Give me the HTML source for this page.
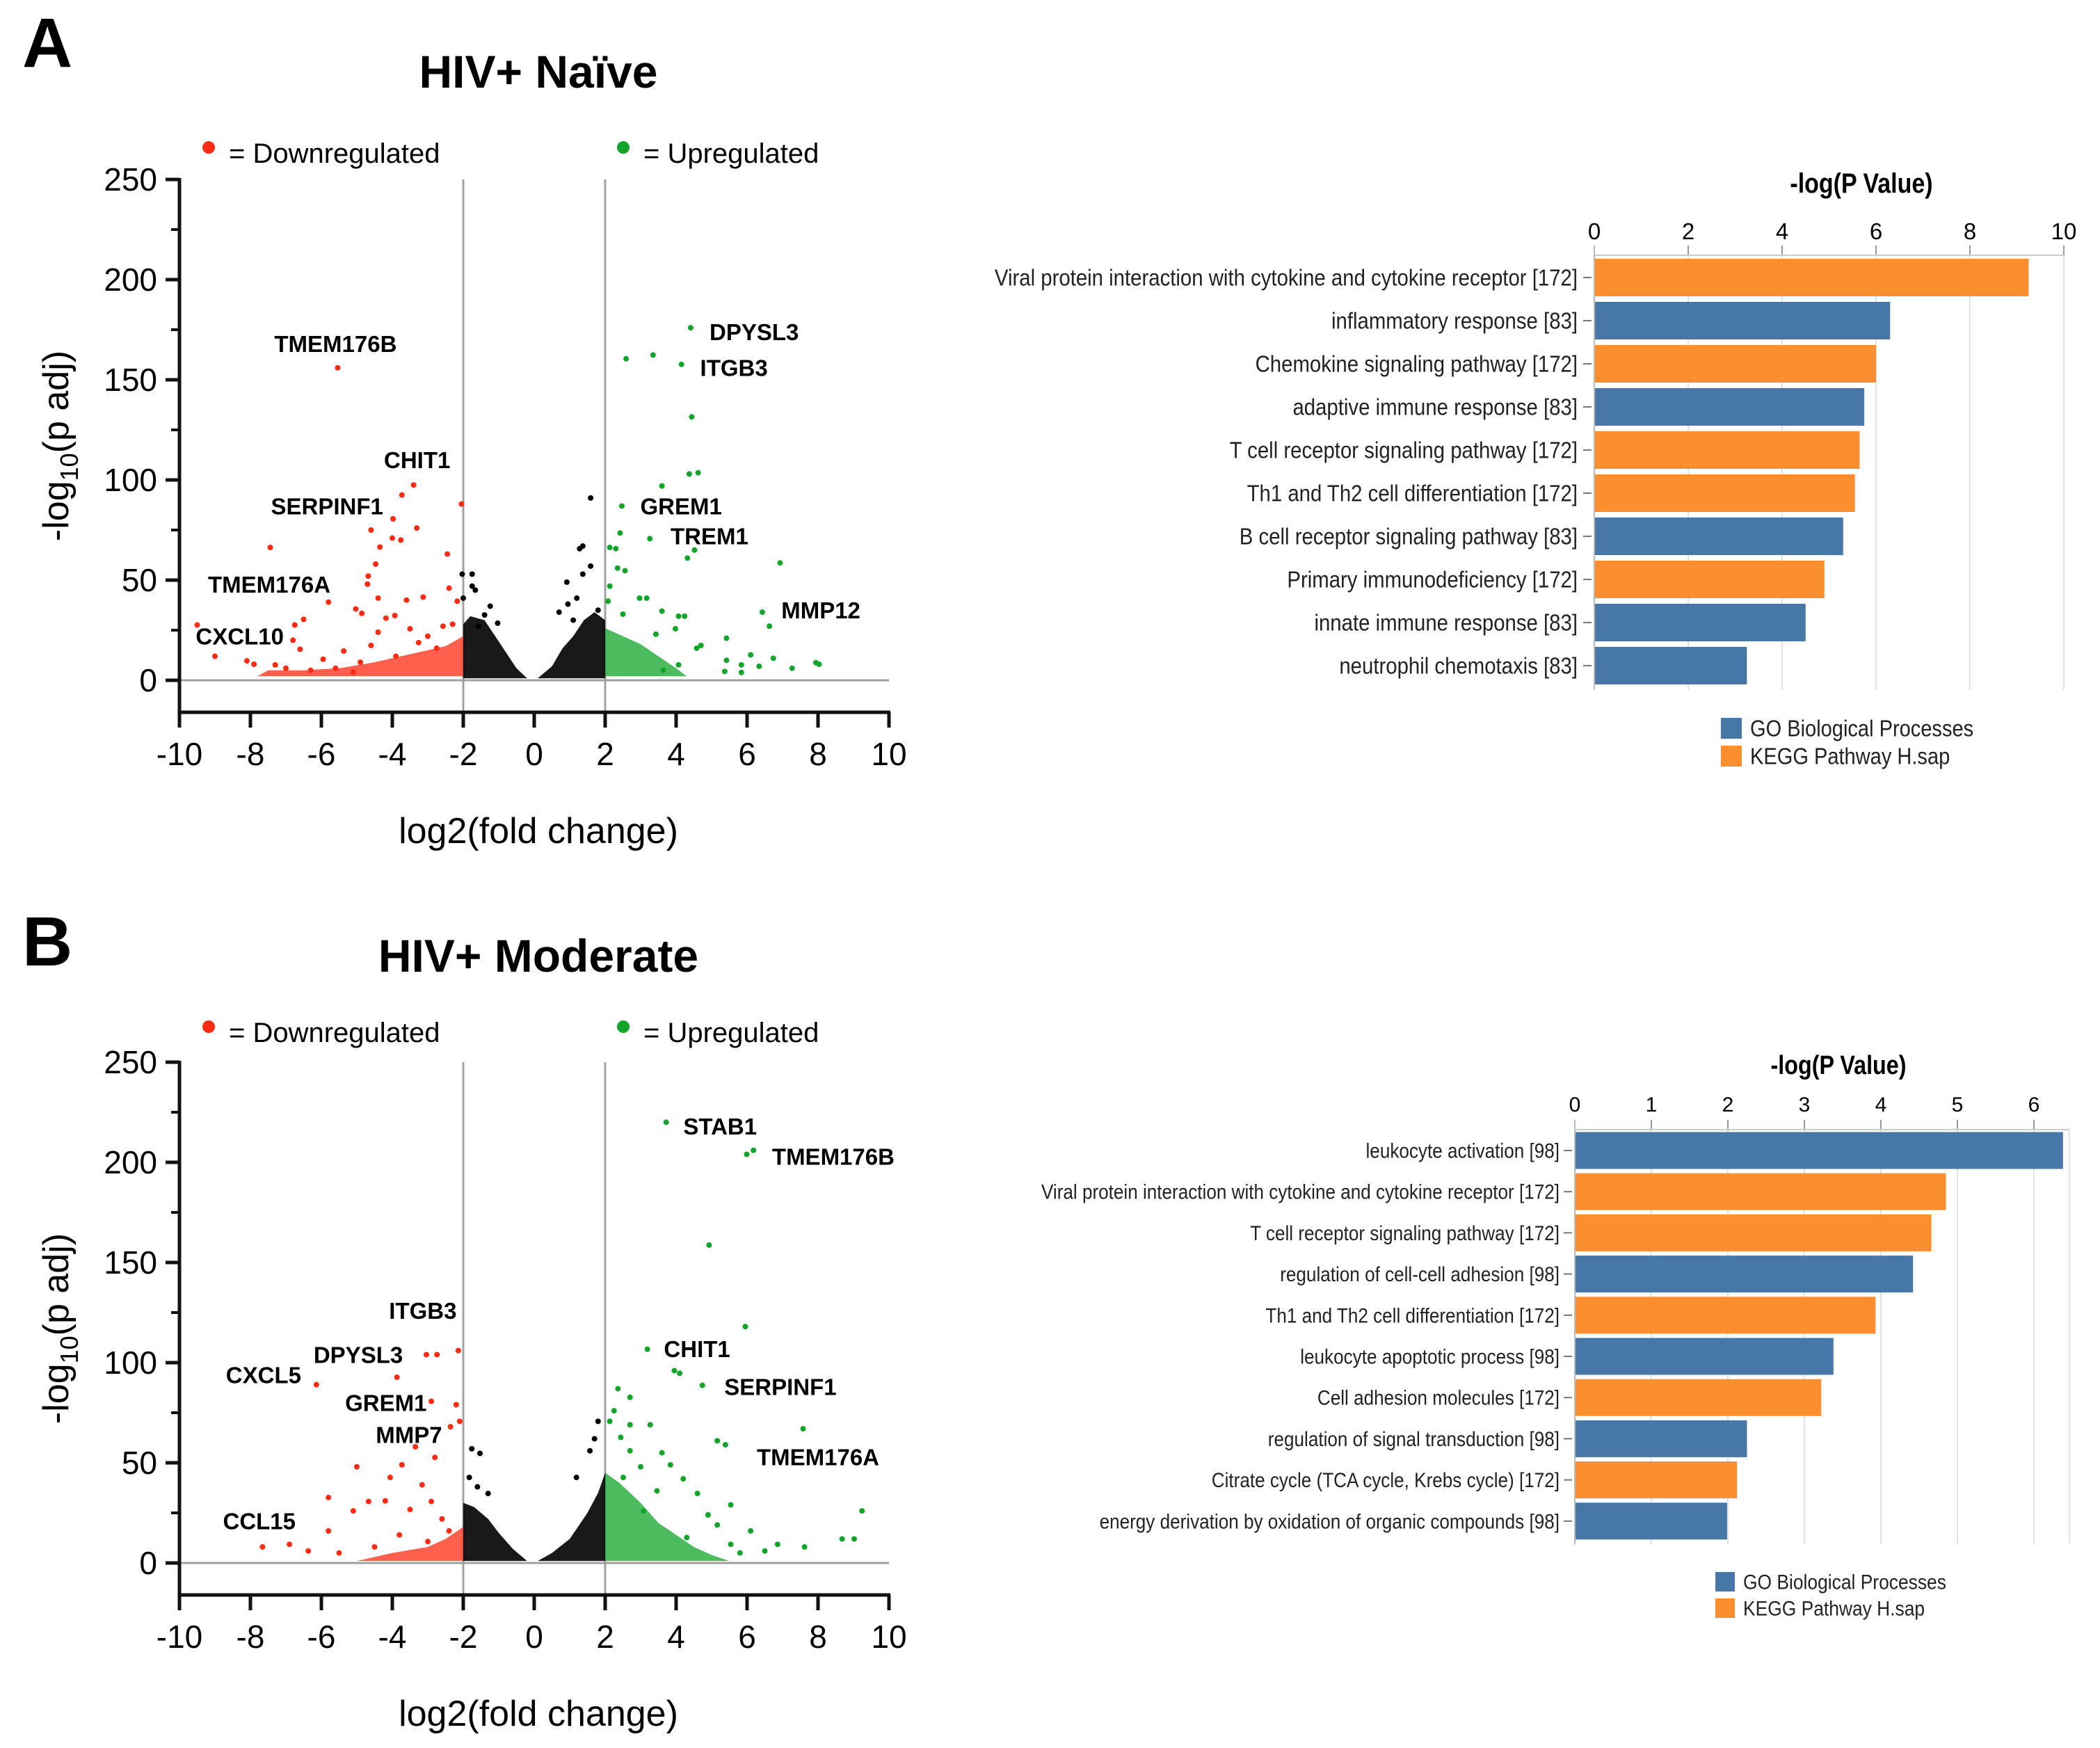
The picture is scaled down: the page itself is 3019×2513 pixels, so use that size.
<!DOCTYPE html>
<html><head><meta charset="utf-8"><style>
html,body{margin:0;padding:0;background:#fff;}
svg{display:block;font-family:"Liberation Sans",Arial,sans-serif;}
</style></head><body>
<svg id="fig" width="3019" height="2513" viewBox="0 0 3019 2513" xmlns="http://www.w3.org/2000/svg">
<rect width="3019" height="2513" fill="#fff"/>
<text x="32" y="96" font-size="100" font-weight="bold">A</text>
<text x="32" y="1388" font-size="100" font-weight="bold">B</text>
<text x="774" y="126" font-size="66" font-weight="bold" text-anchor="middle">HIV+ Naïve</text>
<text x="774" y="1397" font-size="66" font-weight="bold" text-anchor="middle">HIV+ Moderate</text>
<g id="volA"></g>
<g id="volB"></g>
<g id="barA"></g>
<g id="barB"></g>
</svg>
<script>
// ---------- Volcano data ----------
const aRed = [[-5.54,156],[-3.4,97.5],[-3.73,92.5],[-2.05,88],[-3.98,80.6],[-3.31,76],[-4.6,75],[-4.0,71],[-3.76,70],[-4.35,66.5],[-2.45,63],[-7.44,66.3],[-4.47,58],[-4.68,52],[-4.7,48],[-2.4,46],[-5.8,39],[-4.4,41],[-3.6,40],[-3.13,41.5],[-2.17,39.5],[-5.03,35.6],[-4.86,33.4],[-3.93,32.3],[-4.18,31],[-2.57,27],[-6.5,30.4],[-6.75,27.6],[-6.8,20],[-6.6,15.5],[-4.4,24],[-3.5,25.7],[-9.0,12],[-8.1,9.7],[-9.5,27.6],[-7.3,7.7],[-5.95,10.5],[-5.37,14.6],[-4.6,17.4],[-3.26,18.8],[-2.75,16],[-7.9,8],[-7.0,6],[-6.3,5],[-5.6,6],[-5.1,4],[-4.9,9],[-3.9,12],[-3.0,22],[-2.3,28]];
const aGreen = [[4.41,176],[2.59,160.5],[3.35,162.4],[4.15,157.7],[4.44,131.5],[4.37,103],[4.62,103.6],[3.6,97],[2.47,87],[2.42,73.5],[3.26,70.7],[2.13,66.3],[2.3,65.7],[4.52,65],[4.32,61],[6.93,58.6],[2.35,56],[2.56,54.7],[2.13,47],[2.97,41],[3.17,41],[2.08,39.5],[3.6,34.5],[4.07,32],[4.24,32],[6.43,34],[6.63,27],[2.5,33],[3.98,25.7],[5.42,21],[4.58,16],[4.7,17.4],[3.43,23],[6.1,12.7],[6.74,11],[5.42,10],[5.84,7.7],[6.34,7],[7.27,6],[7.94,8.8],[8.03,8],[5.37,4.4],[5.84,3.9],[3.64,5],[4.07,7.7]];
const aBlack = [[1.59,91],[1.28,65.7],[1.37,67],[1.59,57],[1.37,53],[0.92,49],[0.7,34],[1.2,41],[-2.03,53],[-1.75,53],[-1.75,47],[-1.66,45],[-2,41],[-1.24,37],[-1.4,32.6],[-1.03,28.5],[-1.57,27],[0.95,38],[1.8,35],[1.1,30]];
const aRedBand = [[-7.8,2],[-7.5,5],[-6.5,5],[-5.5,6],[-4.5,9],[-3.5,13],[-2.5,17],[-2,22],[-2,2]];
const aGreenBand = [[2,2],[2,26],[2.5,22],[3,18],[3.5,12],[4,6],[4.3,2]];
const aBlackLeft = [[-2,1],[-2,28],[-1.8,32],[-1.4,30],[-1.1,22],[-0.8,14],[-0.5,6],[-0.2,1]];
const aBlackRight = [[0.1,1],[0.5,7],[0.8,16],[1.1,22],[1.4,30],[1.7,34],[2,30],[2,1]];
const aLabels = [["TMEM176B",-5.6,168],["CHIT1",-3.3,110],["SERPINF1",-5.84,87],["TMEM176A",-7.47,48],["CXCL10",-8.3,22],["DPYSL3",6.2,174],["ITGB3",5.63,156],["GREM1",4.14,87],["TREM1",4.94,72],["MMP12",8.08,35]];

const bRed = [[-3.04,104],[-2.74,104],[-2.14,106],[-3.87,92.7],[-6.14,89],[-2.9,80.7],[-2.2,79],[-2.1,70.7],[-2.36,68],[-3.35,58],[-2.8,52.7],[-3.73,49],[-5,48],[-4.06,42.7],[-3.16,39],[-5.8,32.7],[-4.67,30.7],[-4.2,31],[-5.1,26],[-3.5,26.7],[-2.9,30.7],[-5.8,16],[-7.66,8],[-6.9,9.3],[-6.37,6],[-2.4,16],[-3,10.7],[-4.5,8],[-5.5,5],[-3.8,14],[-2.6,22]];
const bGreen = [[3.72,220],[5.99,204],[6.18,206],[4.93,158.7],[5.95,118],[3.19,106.7],[3.95,96],[4.1,94.7],[4.74,88.7],[2.36,87],[2.7,82.7],[7.58,67],[5.16,61],[5.39,59],[2.44,62.7],[3.27,69],[2.7,56],[3.84,49],[2.51,42.7],[3.46,36],[4.6,34.7],[5.54,29],[3.08,26],[5.16,19],[6.1,16],[6.86,9.3],[7.62,8],[8.68,12],[9.02,12],[9.24,26],[4.3,12.7],[5.54,9.3],[2.7,69],[2.13,70.7],[2.25,76],[3.6,55],[4.2,42],[3.0,48],[4.9,24],[6.5,6],[5.8,5]];
const bBlack = [[-1.76,57],[-1.53,54.7],[-1.83,42.7],[-1.3,34.7],[1.8,70.7],[1.57,56],[1.19,42.7],[1.7,62],[-1.6,38]];
const bRedBand = [[-5,1],[-4,5],[-3,8],[-2.5,12],[-2,18],[-2,1]];
const bGreenBand = [[2,1],[2,45],[2.4,40],[3,30],[3.5,20],[4,14],[4.5,8],[5,4],[5.5,1]];
const bBlackLeft = [[-2,1],[-2,30],[-1.7,28],[-1.3,22],[-1,15],[-0.6,7],[-0.2,1]];
const bBlackRight = [[0.1,1],[0.5,5],[1,12],[1.5,25],[1.8,35],[2,45],[2,1]];
const bLabels = [["STAB1",5.24,218],["TMEM176B",8.43,203],["ITGB3",-3.14,126],["DPYSL3",-4.96,104],["CXCL5",-7.63,94],["GREM1",-4.18,80],["MMP7",-3.53,64],["CHIT1",4.59,107],["SERPINF1",6.94,88],["TMEM176A",8.0,53],["CCL15",-7.75,21]];

const xTicks = [-10,-8,-6,-4,-2,0,2,4,6,8,10];
const yTicks = [0,50,100,150,200,250];
const yMinor = [25,75,125,175,225];

// ---------- Bar data ----------
const barALabels = ["Viral protein interaction with cytokine and cytokine receptor [172]","inflammatory response [83]","Chemokine signaling pathway [172]","adaptive immune response [83]","T cell receptor signaling pathway [172]","Th1 and Th2 cell differentiation [172]","B cell receptor signaling pathway [83]","Primary immunodeficiency [172]","innate immune response [83]","neutrophil chemotaxis [83]"];
const barAValues = [9.25,6.3,6.0,5.75,5.65,5.55,5.3,4.9,4.5,3.25];
const barATypes = ["K","G","K","G","K","K","G","K","G","G"];
const barATicks = [0,2,4,6,8,10];
const barBLabels = ["leukocyte activation [98]","Viral protein interaction with cytokine and cytokine receptor [172]","T cell receptor signaling pathway [172]","regulation of cell-cell adhesion [98]","Th1 and Th2 cell differentiation [172]","leukocyte apoptotic process [98]","Cell adhesion molecules [172]","regulation of signal transduction [98]","Citrate cycle (TCA cycle, Krebs cycle) [172]","energy derivation by oxidation of organic compounds [98]"];
const barBValues = [6.38,4.85,4.66,4.42,3.93,3.38,3.22,2.25,2.12,1.99];
const barBTypes = ["G","K","K","G","K","G","K","G","K","G"];
const barBTicks = [0,1,2,3,4,5,6];

const NS = "http://www.w3.org/2000/svg";
function mk(parent, tag, attrs, text){
  const e = document.createElementNS(NS, tag);
  for (const k in attrs) e.setAttribute(k, attrs[k]);
  if (text !== undefined) e.textContent = text;
  parent.appendChild(e);
  return e;
}
const RED="#ff2a12", GREEN="#12a52a", BLUE="#4677a6", ORANGE="#fb8e2f";

function volcano(g, oy, red, green, black, redBand, greenBand, bl, br, labels, legY){
  const X0=258, XU=51.0, Y0=978+oy, YU=2.88;
  const sx = v => X0 + (v+10)*XU;
  const sy = v => Y0 - v*YU;
  const axY = 1024+oy, topY = sy(250);
  let e = mk(g,'circle',{cx:300,cy:legY,r:9,fill:RED});
   
  e = mk(g,'text',{x:329,y:legY+22,'font-size':40},'= Downregulated');
   
  e = mk(g,'circle',{cx:896,cy:legY,r:9,fill:GREEN});
   
  e = mk(g,'text',{x:925,y:legY+22,'font-size':40},'= Upregulated');
   
  for (const v of [-2,2]){
    e = mk(g,'line',{x1:sx(v),x2:sx(v),y1:topY,y2:axY,stroke:'#a0a0a0','stroke-width':3});
     
  }
  e = mk(g,'line',{x1:X0,x2:sx(10),y1:sy(0),y2:sy(0),stroke:'#a0a0a0','stroke-width':3});
   
  const poly = (pts,fill,name,op)=>{
    const p = mk(g,'polygon',{points:pts.map(q=>sx(q[0])+','+sy(q[1])).join(' '),fill:fill,opacity:op});
     
  };
  poly(bl,'#000','ns-cloud-left',0.9); poly(br,'#000','ns-cloud-right',0.9);
  poly(redBand,RED,'down-cloud',0.75); poly(greenBand,GREEN,'up-cloud',0.75);
  const dots=(arr,fill,name)=>{ for(const q of arr){
    const c = mk(g,'circle',{cx:sx(q[0]),cy:sy(q[1]),r:4,fill:fill});
      } };
  dots(black,'#000','ns-gene-point'); dots(red,RED,'down-gene-point'); dots(green,GREEN,'up-gene-point');
  for (const l of labels){
    const t = mk(g,'text',{x:sx(l[1]),y:sy(l[2])+12,'font-size':33,'font-weight':'bold','text-anchor':'middle'},l[0]);
     
  }
  e = mk(g,'line',{x1:X0,x2:X0,y1:topY-2,y2:axY+22,stroke:'#111','stroke-width':5});
   
  e = mk(g,'line',{x1:X0-2,x2:sx(10)+2,y1:axY,y2:axY,stroke:'#111','stroke-width':5});
   
  for (const v of yTicks){
    e = mk(g,'line',{x1:X0-20,x2:X0,y1:sy(v),y2:sy(v),stroke:'#111','stroke-width':5});
     
    e = mk(g,'text',{x:226,y:sy(v)+16,'font-size':46,'text-anchor':'end'},String(v));
     
  }
  for (const v of yMinor){
    e = mk(g,'line',{x1:X0-12,x2:X0,y1:sy(v),y2:sy(v),stroke:'#111','stroke-width':4});
     
  }
  for (const v of xTicks){
    e = mk(g,'line',{x1:sx(v),x2:sx(v),y1:axY,y2:axY+22,stroke:'#111','stroke-width':5});
     
    e = mk(g,'text',{x:sx(v),y:axY+76,'font-size':46,'text-anchor':'middle'},String(v));
     
  }
  e = mk(g,'text',{x:774,y:1212+oy,'font-size':52,'text-anchor':'middle'},'log2(fold change)');
   
  const yt = mk(g,'text',{x:0,y:0,'font-size':52,'text-anchor':'middle',transform:'translate(98,'+(641+oy)+') rotate(-90)'});
   
  mk(yt,'tspan',{},'-log');
  mk(yt,'tspan',{'font-size':36,dy:14},'10');
  mk(yt,'tspan',{dy:-14},'(p adj)');
}
volcano(document.getElementById('volA'),0,aRed,aGreen,aBlack,aRedBand,aGreenBand,aBlackLeft,aBlackRight,aLabels,212);
volcano(document.getElementById('volB'),1269,bRed,bGreen,bBlack,bRedBand,bGreenBand,bBlackLeft,bBlackRight,bLabels,1476);

function bars(g, labels, values, types, ticks, o){
  const sx = v => o.x0 + v*o.unit;
  const xEnd = sx(ticks[ticks.length-1]);
  const bottom = o.c0 + (labels.length-1)*o.step + o.step/2 + 4;
  let e = mk(g,'text',{x:o.titleX,y:o.titleY,'font-size':o.tf,'font-weight':'bold','text-anchor':'middle',transform:'translate('+o.titleX+',0) scale(0.85,1) translate('+(-o.titleX)+',0)'},'-log(P Value)');
   
  for (const v of ticks){
    e = mk(g,'line',{x1:sx(v),x2:sx(v),y1:o.axY,y2:bottom,stroke:'#e2e2e2','stroke-width':2});
     
    e = mk(g,'line',{x1:sx(v),x2:sx(v),y1:o.axY-14,y2:o.axY,stroke:'#999','stroke-width':2});
     
    e = mk(g,'text',{x:sx(v),y:o.tickY,'font-size':o.lf,'text-anchor':'middle'},String(v));
     
  }
  e = mk(g,'line',{x1:o.x0,x2:Math.max(xEnd,o.right),y1:o.axY,y2:o.axY,stroke:'#ccc','stroke-width':2});
   
  e = mk(g,'line',{x1:o.right,x2:o.right,y1:o.axY,y2:bottom,stroke:'#e2e2e2','stroke-width':2});
   
  e = mk(g,'line',{x1:o.x0,x2:o.x0,y1:o.axY-14,y2:bottom,stroke:'#bbb','stroke-width':2});
   
  labels.forEach((lab,i)=>{
    const cy = o.c0 + i*o.step;
    const r = mk(g,'rect',{x:o.x0+1,y:cy-o.bh/2,width:sx(values[i])-o.x0-1,height:o.bh,fill:types[i]==='G'?BLUE:ORANGE});
     
    const tk = mk(g,'line',{x1:o.x0-16,x2:o.x0-4,y1:cy,y2:cy,stroke:'#777','stroke-width':2});
     
    const t = mk(g,'text',{x:0,y:0,'font-size':o.lf,'text-anchor':'end',fill:'#222',transform:'translate('+o.labR+','+(cy+o.lf*0.35)+') scale('+o.lsx+',1)'},lab);
     
  });
  const leg = [[BLUE,'GO Biological Processes'],[ORANGE,'KEGG Pathway H.sap']];
  leg.forEach((L,i)=>{
    const cy = o.legY + i*o.legStep;
    const r = mk(g,'rect',{x:o.legX,y:cy-o.ls/2,width:o.ls,height:o.ls,fill:L[0]});
     
    const t = mk(g,'text',{x:0,y:0,'font-size':o.lf,fill:'#222',transform:'translate('+(o.legX+o.ls+12)+','+(cy+o.lf*0.35)+') scale(0.88,1)'},L[1]);
     
  });
}
bars(document.getElementById('barA'),barALabels,barAValues,barATypes,barATicks,
  {x0:2292,unit:67.5,axY:367,tickY:344,c0:399,step:62,bh:54,labR:2268,lf:33,lsx:0.89,tf:40,titleX:2676,titleY:277,right:2967,legX:2474,legY:1047,legStep:40,ls:30});
bars(document.getElementById('barB'),barBLabels,barBValues,barBTypes,barBTicks,
  {x0:2264,unit:110,axY:1624,tickY:1598,c0:1654,step:59.2,bh:53,labR:2242,lf:30,lsx:0.87,tf:38,titleX:2643,titleY:1544,right:2975,legX:2466,legY:2274,legStep:38,ls:28});
</script>
</body></html>
